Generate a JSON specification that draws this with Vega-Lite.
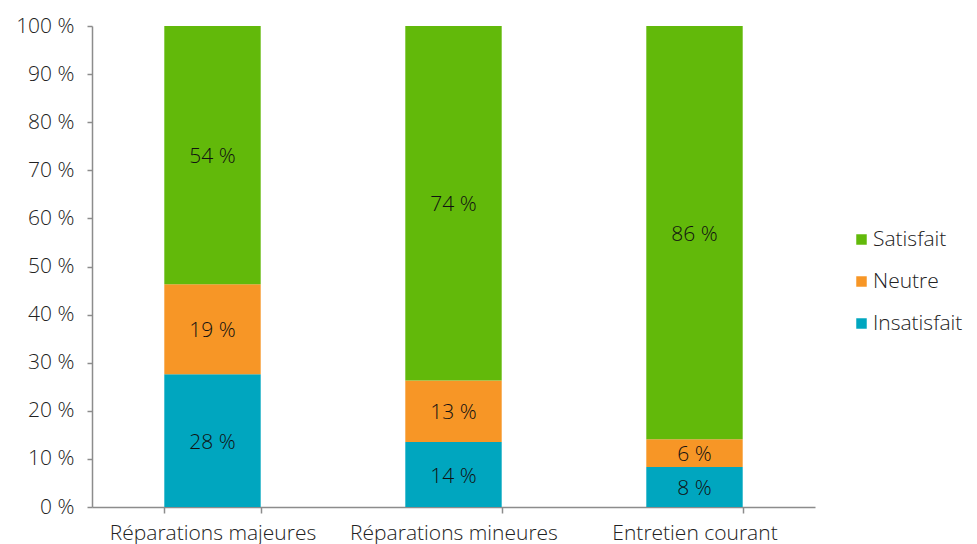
{
  "$schema": "https://vega.github.io/schema/vega-lite/v6.json",
  "width": 723,
  "height": 481,
  "autosize": {"type": "none"},
  "padding": {"left": 92, "top": 26, "right": 162, "bottom": 37},
  "background": "white",
  "config": {
    "view": {"stroke": null},
    "font": "Open Sans",
    "axis": {"labelFont": "Open Sans", "labelFontWeight": 300, "labelColor": "#222222", "domainColor": "#8c8c8c", "tickColor": "#8c8c8c", "grid": false, "title": null, "labelLimit": 0},
    "legend": {"labelFont": "Open Sans", "labelFontWeight": 300}
  },
  "data": {
    "values": [
      {"cat": "Réparations majeures", "status": "Insatisfait", "value": 27.6, "label": "28 %"},
      {"cat": "Réparations majeures", "status": "Neutre", "value": 18.7, "label": "19 %"},
      {"cat": "Réparations majeures", "status": "Satisfait", "value": 53.7, "label": "54 %"},
      {"cat": "Réparations mineures", "status": "Insatisfait", "value": 13.5, "label": "14 %"},
      {"cat": "Réparations mineures", "status": "Neutre", "value": 12.8, "label": "13 %"},
      {"cat": "Réparations mineures", "status": "Satisfait", "value": 73.7, "label": "74 %"},
      {"cat": "Entretien courant", "status": "Insatisfait", "value": 8.3, "label": "8 %"},
      {"cat": "Entretien courant", "status": "Neutre", "value": 5.8, "label": "6 %"},
      {"cat": "Entretien courant", "status": "Satisfait", "value": 85.9, "label": "86 %"}
    ]
  },
  "transform": [
    {"stack": "value", "groupby": ["cat"], "sort": [{"field": "status", "order": "ascending"}], "offset": "normalize", "as": ["v0", "v1"]},
    {"calculate": "(datum.v0 + datum.v1) / 2", "as": "mid"}
  ],
  "encoding": {
    "x": {
      "field": "cat", "type": "nominal", "sort": null,
      "scale": {"paddingInner": 0.6, "paddingOuter": 0.3},
      "axis": {"labelAngle": 0, "labelFontSize": 21, "tickBand": "extent", "tickSize": 6, "labelPadding": 9, "domainWidth": 1.5, "tickWidth": 1.5, "labelOverlap": false}
    }
  },
  "layer": [
    {
      "mark": {"type": "bar"},
      "encoding": {
        "y": {
          "field": "v0", "type": "quantitative",
          "scale": {"domain": [0, 1]},
          "axis": {"values": [0, 0.1, 0.2, 0.3, 0.4, 0.5, 0.6, 0.7, 0.8, 0.9, 1], "labelExpr": "format(datum.value*100, 'd') + ' %'", "labelFontSize": 21, "tickSize": 5, "labelPadding": 13, "domainWidth": 1.5, "tickWidth": 1.5}
        },
        "y2": {"field": "v1"},
        "color": {
          "field": "status", "type": "nominal",
          "scale": {"domain": ["Satisfait", "Neutre", "Insatisfait"], "range": ["#62b90a", "#f79626", "#00a6bf"]},
          "legend": {"title": null, "orient": "none", "legendX": 759, "legendY": 203, "symbolType": "square", "symbolSize": 110, "symbolStrokeWidth": 0, "labelFontSize": 21, "labelColor": "#222222", "rowPadding": 20, "labelOffset": 1}
        }
      }
    },
    {
      "mark": {"type": "text", "fontSize": 21, "fontWeight": 300, "color": "#111111", "baseline": "middle", "dy": 2},
      "encoding": {
        "y": {"field": "mid", "type": "quantitative"},
        "text": {"field": "label"}
      }
    }
  ]
}
